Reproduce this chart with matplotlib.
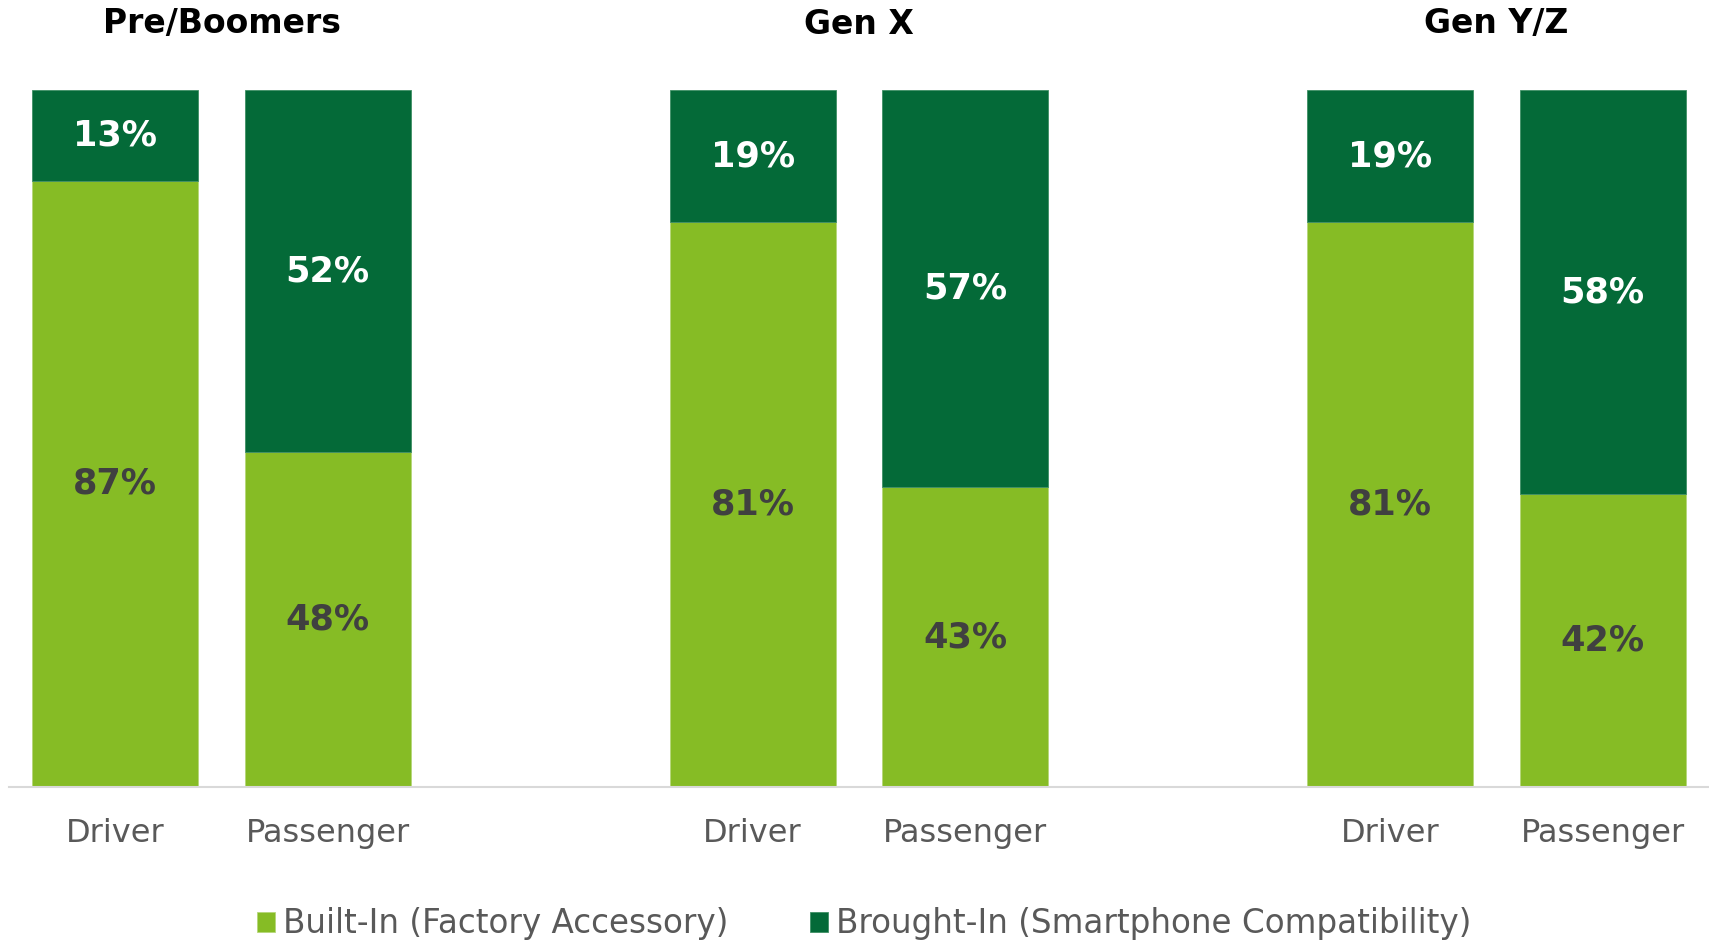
import matplotlib
matplotlib.use("Agg")
import matplotlib.pyplot as plt
import matplotlib.transforms as mtransforms
import numpy as np

groups = ["Pre/Boomers", "Gen X", "Gen Y/Z"]
roles = ["Driver", "Passenger"]
built_in = [87, 48, 81, 43, 81, 42]
brought_in = [13, 52, 19, 57, 19, 58]
series_names = ["Built-In (Factory Accessory)", "Brought-In (Smartphone Compatibility)"]

LIGHT = "#86BC25"
DARK = "#046A38"
LBL_DARK = "#404040"
GRAY = "#595959"

plt.rcParams['font.family'] = ['DejaVu Sans']

W, H = 1709, 942
fig = plt.figure(figsize=(W / 100, H / 100), dpi=100)
ax = fig.add_axes([9 / W, 1 - 787 / H, 1 - 9 / W, (787 - 90) / H])

# positions: two bars per group, groups spaced 3 units apart
x = []
for g in range(len(groups)):
    for r in range(len(roles)):
        x.append(g * 3 + r)
x = np.array(x, dtype=float)

b = np.array(built_in) / 100.0
t = np.array(brought_in) / 100.0
width = 0.78
bars1 = ax.bar(x, b, width, color=LIGHT, edgecolor="#B6D77A", linewidth=0.6, label=series_names[0])
bars2 = ax.bar(x, t, width, bottom=b, color=DARK, edgecolor="#3F8F65", linewidth=0.6, label=series_names[1])

for xi, bi, ti in zip(x, built_in, brought_in):
    ax.text(xi, bi / 200.0, f"{bi}%", ha="center", va="center", fontsize=25.3,
            fontweight="bold", color=LBL_DARK)
    ax.text(xi, bi / 100.0 + ti / 200.0, f"{ti}%", ha="center", va="center", fontsize=25.3,
            fontweight="bold", color="white")

ax.set_xlim(-0.5, 7.5)
ax.set_ylim(0, 1.0)
for s in ["top", "right", "left"]:
    ax.spines[s].set_visible(False)
ax.spines["bottom"].set_color("#D9D9D9")
ax.spines["bottom"].set_linewidth(1.5)
ax.set_yticks([])
ax.set_xticks(x)
ax.set_xticklabels(roles * len(groups), fontsize=23, color=GRAY)
ax.tick_params(axis="x", length=0, pad=22)

trans = mtransforms.blended_transform_factory(ax.transData, fig.transFigure)
for g, name in enumerate(groups):
    ax.text(g * 3 + 0.5, 1 - 24 / H, name, transform=trans, ha="center", va="center",
            fontsize=23.8, fontweight="bold", color="black")

fig.legend(handles=[bars1, bars2], labels=series_names, loc="center",
           bbox_to_anchor=(864 / W, 1 - 924 / H), ncol=2, frameon=False,
           fontsize=23.5, labelcolor=GRAY, handlelength=0.55, handleheight=0.55,
           handletextpad=0.25, columnspacing=2.5, borderpad=0, borderaxespad=0)

fig.savefig("out.png", dpi=100, facecolor="white")
